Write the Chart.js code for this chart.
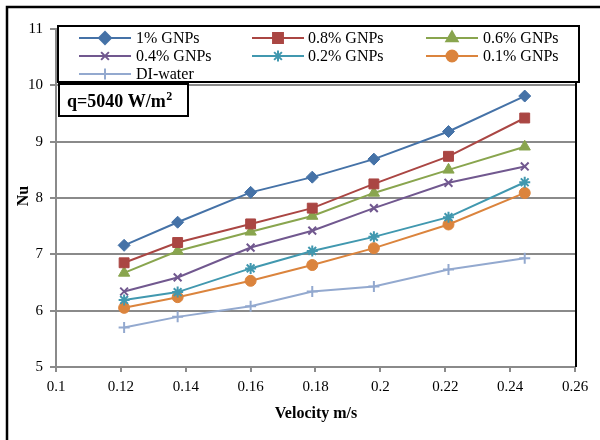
<!DOCTYPE html>
<html>

<head>
    <title>Nu vs velocity</title>
    <!-- Chart JS -->
    <script src="https://cdn.jsdelivr.net/npm/chart.js@4.4.1/dist/chart.umd.min.js"></script>
    <style>
        body { margin: 0; background: #fff; }
        #wrap { width: 600px; height: 440px; }
    </style>
</head>

<body>
    <div id="wrap"><canvas id="myChart"></canvas></div>
    <script>

        // measured velocities (m/s)
        var velocity = [0.121, 0.1375, 0.16, 0.179, 0.198, 0.221, 0.2445];

        var nu1 = [7.16, 7.57, 8.10, 8.37, 8.69, 9.18, 9.81];
        var nu08 = [6.85, 7.21, 7.54, 7.82, 8.25, 8.74, 9.42];
        var nu06 = [6.67, 7.06, 7.40, 7.68, 8.09, 8.50, 8.91];
        var nu04 = [6.34, 6.59, 7.12, 7.42, 7.82, 8.27, 8.56];
        var nu02 = [6.19, 6.33, 6.75, 7.06, 7.31, 7.66, 8.28];
        var nu01 = [6.05, 6.24, 6.53, 6.81, 7.11, 7.53, 8.09];
        var nuWater = [5.70, 5.89, 6.08, 6.34, 6.43, 6.73, 6.93];

        var xTicks = [0.1, 0.12, 0.14, 0.16, 0.18, 0.2, 0.22, 0.24, 0.26];
        var yTicks = [5, 6, 7, 8, 9, 10, 11];

        var serif = "'Liberation Serif', 'Times New Roman', serif";
        var gridGray = '#8a8a8a';

        function series(label, values, color, style, radius) {
            return {
                label: label,
                data: values.map(function (v, i) { return { x: velocity[i], y: v }; }),
                borderColor: color,
                backgroundColor: color,
                borderWidth: 2,
                pointStyle: style,
                pointRadius: radius,
                pointHoverRadius: radius,
                pointBorderWidth: (style == 'rect' || style == 'circle' || style == 'rectRot' || style == 'triangle') ? 1 : 2,
                fill: false
            };
        }

        var datasets = [
            series('1% GNPs', nu1, '#4572A7', 'rectRot', 6),
            series('0.8% GNPs', nu08, '#AA4643', 'rect', 7),
            series('0.6% GNPs', nu06, '#89A54E', 'triangle', 6.5),
            series('0.4% GNPs', nu04, '#71588F', 'crossRot', 5.5),
            series('0.2% GNPs', nu02, '#4198AF', 'star', 5.5),
            series('0.1% GNPs', nu01, '#DB843D', 'circle', 5.5),
            series('DI-water', nuWater, '#93A9CF', 'cross', 5.5)
        ];

        // legend box, note box, axis titles and frame drawn over the plot
        var overlay = {
            id: 'overlay',
            afterDraw: function (chart) {
                var ctx = chart.ctx;
                var area = chart.chartArea;
                ctx.save();

                // outer frame
                ctx.strokeStyle = '#000';
                ctx.lineWidth = 2.5;
                ctx.beginPath();
                ctx.moveTo(7, 445);
                ctx.lineTo(7, 7);
                ctx.lineTo(605, 7);
                ctx.stroke();

                // plot area right edge
                ctx.lineWidth = 2;
                ctx.beginPath();
                ctx.moveTo(area.right + 1, area.top);
                ctx.lineTo(area.right + 1, area.bottom);
                ctx.stroke();

                // legend
                ctx.fillStyle = '#fff';
                ctx.fillRect(58, 26, 521, 56);
                ctx.strokeStyle = '#000';
                ctx.lineWidth = 2;
                ctx.strokeRect(58, 26, 521, 56);

                var lineX = [79, 252, 426];
                var textX = [136, 308, 483];
                var rowY = [38, 56, 74];
                ctx.font = '16px ' + serif;
                ctx.textBaseline = 'middle';
                ctx.textAlign = 'left';
                chart.data.datasets.forEach(function (ds, i) {
                    var col = i % 3, row = Math.floor(i / 3);
                    var y = rowY[row];
                    ctx.strokeStyle = ds.borderColor;
                    ctx.fillStyle = ds.backgroundColor;
                    ctx.lineWidth = 2;
                    ctx.beginPath();
                    ctx.moveTo(lineX[col], y);
                    ctx.lineTo(lineX[col] + 52, y);
                    ctx.stroke();
                    Chart.helpers.drawPoint(ctx, {
                        pointStyle: ds.pointStyle,
                        radius: ds.pointRadius,
                        borderWidth: ds.pointBorderWidth,
                        rotation: 0
                    }, lineX[col] + 26, y);
                    ctx.fillStyle = '#000';
                    ctx.fillText(ds.label, textX[col], y + 1);
                });

                // heat flux note
                ctx.fillStyle = '#fff';
                ctx.fillRect(59, 84, 129, 32);
                ctx.strokeStyle = '#000';
                ctx.lineWidth = 2;
                ctx.strokeRect(59, 84, 129, 32);
                ctx.fillStyle = '#000';
                ctx.textBaseline = 'alphabetic';
                ctx.font = 'bold 18px ' + serif;
                ctx.fillText('q=5040 W/m', 67, 107);
                var w = ctx.measureText('q=5040 W/m').width;
                ctx.font = 'bold 12px ' + serif;
                ctx.fillText('2', 67 + w + 0.5, 100);

                // axis titles
                ctx.font = 'bold 16px ' + serif;
                ctx.textAlign = 'center';
                ctx.textBaseline = 'middle';
                ctx.fillText('Velocity m/s', 316, 414);
                ctx.translate(24, 196);
                ctx.rotate(-Math.PI / 2);
                ctx.fillText('Nu', 0, 0);

                ctx.restore();
            }
        };

        Chart.defaults.font.family = serif;
        Chart.defaults.font.size = 15;
        Chart.defaults.color = '#000';

        var ctx = document.getElementById('myChart').getContext('2d');
        var chart = new Chart(ctx, {
            type: 'line',
            data: { datasets: datasets },
            plugins: [overlay],
            options: {
                responsive: true,
                maintainAspectRatio: false,
                animation: false,
                events: [],
                layout: { padding: { left: 0, top: 29, right: 25, bottom: 0 } },
                plugins: {
                    legend: { display: false },
                    tooltip: { enabled: false }
                },
                scales: {
                    x: {
                        type: 'linear',
                        min: 0.1,
                        max: 0.26,
                        afterBuildTicks: function (scale) {
                            scale.ticks = xTicks.map(function (v) { return { value: v }; });
                        },
                        afterFit: function (scale) { scale.height = 73; },
                        ticks: {
                            padding: 6,
                            maxRotation: 0,
                            autoSkip: false,
                            callback: function (v) { return String(+v.toFixed(2)); }
                        },
                        grid: {
                            drawOnChartArea: false,
                            color: gridGray,
                            lineWidth: 2,
                            tickLength: 5
                        },
                        border: { color: gridGray, width: 2 }
                    },
                    y: {
                        min: 5,
                        max: 11,
                        afterBuildTicks: function (scale) {
                            scale.ticks = yTicks.map(function (v) { return { value: v }; });
                        },
                        afterFit: function (scale) { scale.width = 56; },
                        ticks: { padding: 7 },
                        grid: {
                            color: gridGray,
                            lineWidth: 2,
                            tickLength: 6
                        },
                        border: { color: gridGray, width: 2 }
                    }
                }
            }
        });
    </script>

</body>

</html>
